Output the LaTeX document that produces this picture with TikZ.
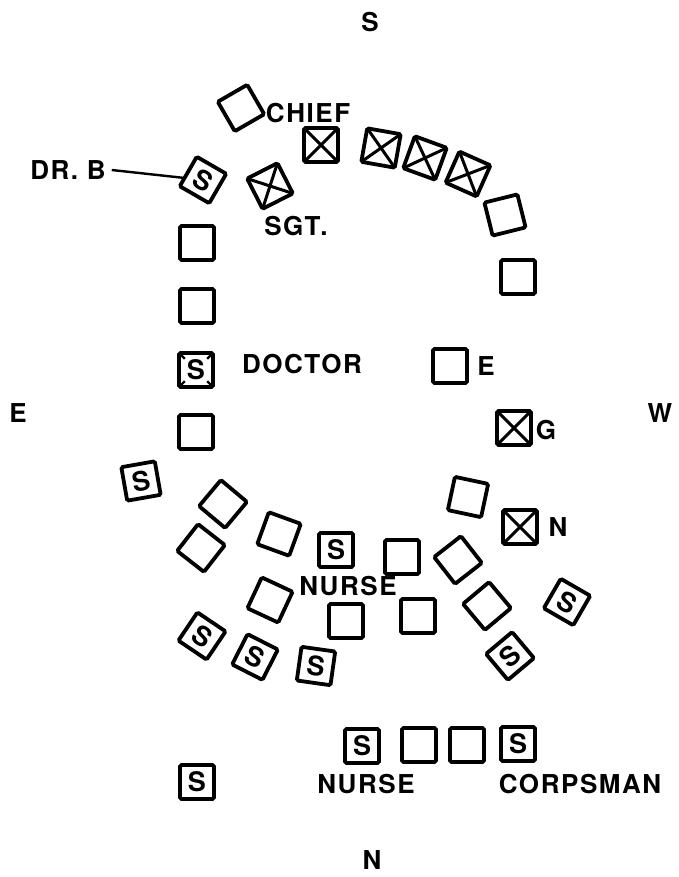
\documentclass[tikz,border=0pt]{standalone}
\usepackage{fontspec}
\setmainfont{TeX Gyre Heros}
\newfontfamily\lettering{TeX Gyre Heros Bold}[LetterSpace=6]
\usetikzlibrary{calc}
\tikzset{
  seat/.style={draw, line width=3.8pt, minimum size=34pt, inner sep=0pt, outer sep=0pt,
    rounded corners=1.5pt, font=\lettering\fontsize{27}{27}\selectfont},
  lbl/.style={inner sep=0pt, font=\lettering\fontsize{26}{26}\selectfont},
  crossline/.style={line width=3pt},
}
\newcommand{\xcross}[1]{\draw[crossline] (#1.north west) -- (#1.south east) (#1.north east) -- (#1.south west);}
\begin{document}
\begin{tikzpicture}[x=1pt,y=-1pt]
\useasboundingbox (0,0) rectangle (678,877);
% compass
\node[lbl] (cS) at (370,22) {S};
\node[lbl] (cE) at (18,413) {E};
\node[lbl] (cW) at (660,413) {W};
\node[lbl] (cN) at (372,860) {N};
% top arc
\node[seat, rotate=30] (c1) at (241,108) {};
\node[seat] (c2) at (321,145) {}; \xcross{c2}
\node[seat, rotate=-10] (c3) at (381,148) {}; \xcross{c3}
\node[seat, rotate=-20] (c4) at (425,158) {}; \xcross{c4}
\node[seat, rotate=-24] (c5) at (468,174) {}; \xcross{c5}
\node[seat, rotate=14] (c6) at (505,215) {};
\node[seat] (c7) at (518,277) {};
\node[seat, rotate=-30] (drb) at (203,180) {S};
\node[seat, rotate=27] (sgt) at (270,186) {}; \xcross{sgt}
\node[lbl] (chiefl) at (308,113) {CHIEF};
\node[lbl] (sgtl) at (296,226) {SGT.};
\node[lbl, outer sep=0pt, inner xsep=6pt] (drbl) at (68,170) {DR. B};
\draw[line width=2.4pt] (drbl.east) -- (drb);
% left column
\node[seat] (l1) at (197,243) {};
\node[seat] (l2) at (197,306) {};
\node[seat] (doc) at (196,370) {S};
\foreach \a/\b in {north west/south east, north east/south west, south west/north east, south east/north west}
  \draw[line width=2.4pt] (doc.\a) -- ($(doc.\a)!0.17!(doc.\b)$);
\node[seat] (l4) at (196,432) {};
\node[lbl] (docl) at (302,364) {DOCTOR};
\node[seat] (e1) at (450,366) {};
\node[lbl] (el) at (486,366) {E};
\node[seat] (g1) at (514,428) {}; \xcross{g1}
\node[lbl] (gl) at (546,430) {G};
% lower left group
\node[seat, rotate=10] (sA) at (141,481) {S};
\node[seat, rotate=-40] (dA) at (223,504) {};
\node[seat, rotate=-38] (dB) at (201,548) {};
\node[seat, rotate=-20] (q3) at (279,534) {};
\node[seat, rotate=-25] (q4) at (270,600) {};
\node[seat, rotate=-34] (s5) at (202,636) {S};
\node[seat, rotate=-27] (s6) at (255,657) {S};
\node[seat, rotate=-8] (s7) at (316,666) {S};
% middle group
\node[seat] (sm) at (336,550) {S};
\node[seat] (m2) at (402,557) {};
\node[seat] (m3) at (346,621) {};
\node[seat] (m4) at (418,616) {};
\node[lbl] (nursel) at (348,586) {NURSE};
% right group
\node[seat, rotate=-12] (r1) at (468,497) {};
\node[seat] (n1) at (520,527) {}; \xcross{n1}
\node[lbl] (nl) at (558,527) {N};
\node[seat, rotate=38] (r2) at (458,560) {};
\node[seat, rotate=40] (r3) at (487,606) {};
\node[seat, rotate=40] (r4) at (510,656) {S};
\node[seat, rotate=-30] (r5) at (567,602) {S};
% bottom row
\node[seat] (b1) at (362,746) {S};
\node[seat] (b2) at (419,745) {};
\node[seat] (b3) at (467,745) {};
\node[seat] (b4) at (518,744) {S};
\node[seat] (b5) at (197,782) {S};
\node[lbl] (nurse2) at (366,784) {NURSE};
\node[lbl] (corps) at (580,784) {CORPSMAN};
\end{tikzpicture}
\end{document}
